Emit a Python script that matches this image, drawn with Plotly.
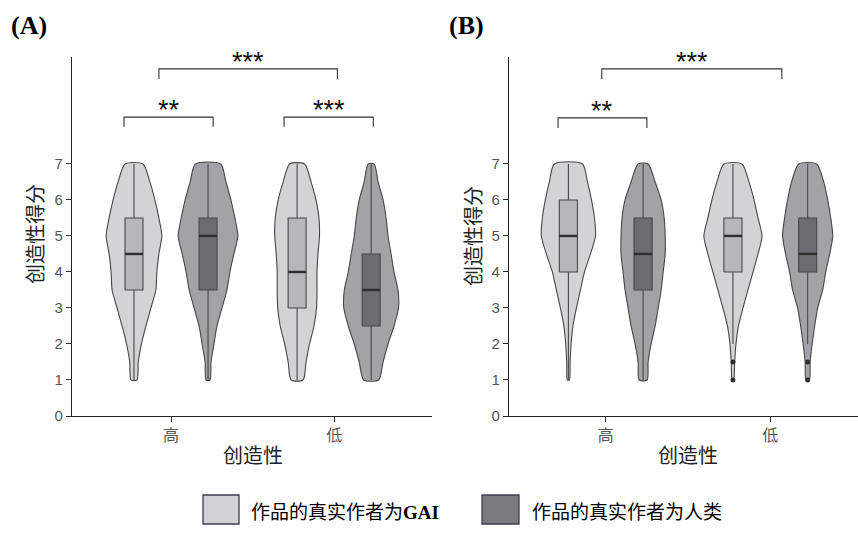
import plotly.graph_objects as go

# ---------------- data ----------------
categories = ["高", "低"]
groups = ["作品的真实作者为GAI", "作品的真实作者为人类"]
score_levels = [1, 1.5, 2, 2.5, 3, 3.5, 4, 4.5, 5, 5.5, 6, 6.5, 7]

# relative violin density (half-width) at each score level
densA_gai_high = [3, 4.3, 7.5, 12, 17, 22, 23, 25, 28, 25, 21, 16, 9]
densA_hum_high = [2, 3, 6, 9, 14, 19, 22, 26, 30, 27, 23, 18, 12.7]
densA_gai_low = [6, 9, 12.5, 17, 19.5, 20, 20, 21, 22.5, 22, 19, 14, 7.5]
densA_hum_low = [7.5, 12, 17, 23, 27.5, 27, 23, 20, 17, 15, 12, 7, 3]
densB_gai_high = [1, 1.7, 2.7, 4.5, 8, 12, 16, 22, 27, 26, 23, 19, 14]
densB_hum_high = [4, 5, 8, 12, 15, 18, 20, 22, 22, 21, 18, 12, 5]
densB_gai_low = [0.7, 1.7, 3, 5.5, 10, 15, 20, 25, 29, 25, 21, 16, 9]
densB_hum_low = [1.7, 2.5, 4.5, 7, 10, 15, 18, 22, 25, 23, 20, 16, 9]

# box statistics: [lower whisker, q1, median, q3, upper whisker]
boxA_gai = [[1, 3.5, 4.5, 5.5, 7], [1, 3.0, 4.0, 5.5, 7]]
boxA_hum = [[1, 3.5, 5.0, 5.5, 7], [1, 2.5, 3.5, 4.5, 7]]
boxB_gai = [[1, 4.0, 5.0, 6.0, 7], [2, 4.0, 5.0, 5.5, 7]]
boxB_hum = [[1, 3.5, 4.5, 5.5, 7], [2, 4.0, 4.5, 5.5, 7]]
outB_gai = [[], [1.5, 1.0]]
outB_hum = [[], [1.5, 1.0]]

# ---------------- styles ----------------
VIOLIN_FILL = ["#d3d3d5", "#a3a3a7"]
BOX_FILL = ["#b7b7ba", "#6c6c70"]
LEGEND_FILL = ["#d2d2d4", "#7b7b7f"]
EDGE = "#474747"
DODGE = 0.227
DENS_SCALE = 1 / 164.0
BOX_W = 0.11
CJK = "Noto Sans CJK SC"

fig = go.Figure()


def add_group(xa, ya, gi, dens_list, box_list, out_list):
    for ci in range(len(categories)):
        center = ci + (-DODGE if gi == 0 else DODGE)
        dens = dens_list[ci]
        xs = [center + d * DENS_SCALE for d in dens] + [center - d * DENS_SCALE for d in dens[::-1]]
        ys = list(score_levels) + list(score_levels[::-1])
        xs.append(xs[0])
        ys.append(ys[0])
        # violin body
        fig.add_trace(go.Scatter(
            x=xs, y=ys, xaxis=xa, yaxis=ya, mode="lines", fill="toself",
            fillcolor=VIOLIN_FILL[gi], line=dict(color=EDGE, width=1.1, shape="spline", smoothing=0.7),
            showlegend=False, hoverinfo="skip"))
        lo, q1, med, q3, hi = box_list[ci]
        # whisker line
        fig.add_trace(go.Scatter(
            x=[center, center], y=[lo, hi], xaxis=xa, yaxis=ya, mode="lines",
            line=dict(color=EDGE, width=1.1), showlegend=False, hoverinfo="skip"))
        # box
        bx = [center - BOX_W / 2, center + BOX_W / 2, center + BOX_W / 2, center - BOX_W / 2, center - BOX_W / 2]
        by = [q1, q1, q3, q3, q1]
        fig.add_trace(go.Scatter(
            x=bx, y=by, xaxis=xa, yaxis=ya, mode="lines", fill="toself", fillcolor=BOX_FILL[gi],
            line=dict(color=EDGE, width=1.1), showlegend=False, hoverinfo="skip"))
        # median
        fig.add_trace(go.Scatter(
            x=[center - BOX_W / 2, center + BOX_W / 2], y=[med, med], xaxis=xa, yaxis=ya,
            mode="lines", line=dict(color="#2e2e2e", width=2.4), showlegend=False, hoverinfo="skip"))
        if out_list is not None and out_list[ci]:
            fig.add_trace(go.Scatter(
                x=[center] * len(out_list[ci]), y=out_list[ci], xaxis=xa, yaxis=ya, mode="markers",
                marker=dict(color="#2e2e2e", size=5), showlegend=False, hoverinfo="skip"))


add_group("x", "y", 0, [densA_gai_high, densA_gai_low], boxA_gai, None)
add_group("x", "y", 1, [densA_hum_high, densA_hum_low], boxA_hum, None)
add_group("x2", "y2", 0, [densB_gai_high, densB_gai_low], boxB_gai, outB_gai)
add_group("x2", "y2", 1, [densB_hum_high, densB_hum_low], boxB_hum, outB_hum)

W, H = 858, 534
axis_common = dict(showgrid=False, zeroline=False, showline=True, linecolor="#222", linewidth=1.3,
                   ticks="outside", ticklen=5, tickcolor="#222", tickwidth=1.3, automargin=False)
fig.update_layout(
    template="none",
    width=W, height=H, autosize=False, margin=dict(l=0, r=0, t=0, b=0, pad=0),
    plot_bgcolor="white", paper_bgcolor="white", showlegend=False,
    xaxis=dict(domain=[72 / W, 432 / W], range=[-0.607, 1.600], tickvals=[0, 1], ticktext=categories,
               tickfont=dict(family=CJK, size=16, color="#555"), anchor="y", **axis_common),
    yaxis=dict(domain=[1 - 416 / H, 1 - 57 / H], range=[0, 9.97], tickvals=list(range(8)),
               tickfont=dict(family="Liberation Sans", size=15, color="#555"), anchor="x", **axis_common),
    xaxis2=dict(domain=[509 / W, 1.0], range=[-0.588, 1.533], tickvals=[0, 1], ticktext=categories,
                tickfont=dict(family=CJK, size=16, color="#555"), anchor="y2", **axis_common),
    yaxis2=dict(domain=[1 - 416 / H, 1 - 57 / H], range=[0, 9.97], tickvals=list(range(8)),
                tickfont=dict(family="Liberation Sans", size=15, color="#555"), anchor="x2", **axis_common),
)

# significance brackets
brackets = [
    ("x", "y", -0.288, 0.258, 8.30, 8.03, "**"),
    ("x", "y", 0.693, 1.240, 8.30, 8.03, "***"),
    ("x", "y", -0.074, 1.020, 9.64, 9.36, "***"),
    ("x2", "y2", -0.290, 0.250, 8.28, 8.00, "**"),
    ("x2", "y2", -0.024, 1.070, 9.64, 9.36, "***"),
]
for xa, ya, x0, x1, ytop, yleg, label in brackets:
    fig.add_shape(type="path", xref=xa, yref=ya,
                  path=f"M {x0},{yleg} L {x0},{ytop} L {x1},{ytop} L {x1},{yleg}",
                  line=dict(color="#333", width=1.1))
    fig.add_annotation(x=(x0 + x1) / 2, y=ytop, yshift=7, xref=xa, yref=ya, text=label, showarrow=False,
                       xanchor="center", yanchor="middle",
                       font=dict(family="Liberation Sans", size=27, color="#111"))

# panel labels
for txt, x in [("(A)", 9), ("(B)", 447)]:
    fig.add_annotation(x=x / W, y=1 - 25 / H, xref="paper", yref="paper", xanchor="left", yanchor="middle",
                       text=f"<b>{txt}</b>", showarrow=False,
                       font=dict(family="Liberation Serif", size=26, color="black"))

# axis titles
for xc, yc in [(35, 234), (473, 236)]:
    fig.add_annotation(x=xc / W, y=1 - yc / H, xref="paper", yref="paper", text="创造性得分", textangle=-90,
                       xanchor="center", yanchor="middle",
                       showarrow=False, font=dict(family=CJK, size=20, color="#222"))
for xc in [253, 688]:
    fig.add_annotation(x=xc / W, y=1 - 454 / H, xref="paper", yref="paper", text="创造性",
                       xanchor="center", yanchor="middle",
                       showarrow=False, font=dict(family=CJK, size=20, color="#222"))

# legend
legend_items = [(203, 239, 249, groups[0].replace("GAI", "<b><span style='font-family:Liberation Serif'>GAI</span></b>")),
                (482, 519, 530, groups[1])]
for gi, (bx0, bx1, tx, label) in enumerate(legend_items):
    fig.add_shape(type="rect", xref="paper", yref="paper", x0=bx0 / W, x1=bx1 / W,
                  y0=1 - 524 / H, y1=1 - 495 / H, fillcolor=LEGEND_FILL[gi],
                  line=dict(color="#3b3b58", width=1.3))
    fig.add_annotation(x=tx / W, y=1 - 510 / H, xref="paper", yref="paper", xanchor="left", yanchor="middle",
                       text=label, showarrow=False, font=dict(family=CJK, size=19, color="black"))

fig.write_html("out.html", config={"responsive": False, "displayModeBar": False},
               post_script="document.body.style.margin='0';document.body.style.overflow='hidden';")
